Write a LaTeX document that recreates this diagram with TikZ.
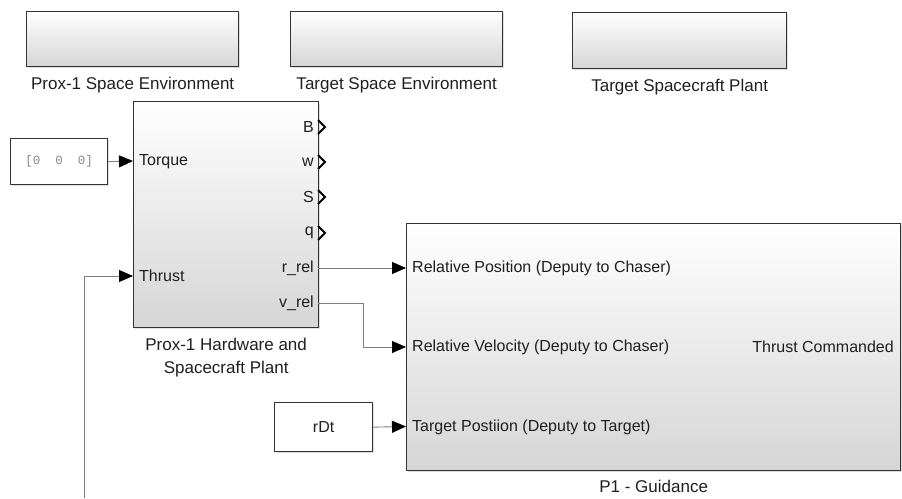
\documentclass[tikz,border=0pt]{standalone}
\usepackage{fontspec}
\setmainfont{Liberation Sans}
\newfontfamily\constfont{Liberation Mono}
\usetikzlibrary{arrows.meta,positioning,shadows,calc}
\definecolor{blkedge}{HTML}{333333}
\definecolor{wire}{HTML}{808080}
\definecolor{shadebot}{HTML}{D6D6D6}
\definecolor{constgray}{HTML}{8A8A8A}
\tikzset{
  blk/.style={draw=blkedge, line width=1.3pt, anchor=north west, inner sep=0pt,
    top color=white, middle color=white, bottom color=shadebot,
    drop shadow={shadow xshift=1.5pt, shadow yshift=-1.5pt, opacity=0.25}},
  srcbox/.style={draw=blkedge, line width=1.3pt, anchor=north west, inner sep=0pt, fill=white,
    drop shadow={shadow xshift=1.5pt, shadow yshift=-1.5pt, opacity=0.25}},
  blkname/.style={inner sep=0pt, align=center, font=\fontsize{17}{23}\selectfont, text=black!88},
  port/.style={inner sep=0pt, font=\fontsize{16}{18}\selectfont, text=black!88},
  sig/.style={draw=wire, line width=0.9pt, -{Triangle[length=14pt,width=12pt,color=black]}},
  chev/.style={line width=2pt, line join=miter},
}
\begin{document}
\begin{tikzpicture}[x=1pt,y=-1pt]
  \useasboundingbox (0,0) rectangle (902,498);
  % top row
  \node[blk, minimum width=212pt, minimum height=55pt] (envp) at (26,11) {};
  \node[blkname, below=10pt of envp] (envplbl) {Prox-1 Space Environment};
  \node[blk, minimum width=212pt, minimum height=55pt] (envt) at (290,11) {};
  \node[blkname, below=10pt of envt] (envtlbl) {Target Space Environment};
  \node[blk, minimum width=214pt, minimum height=56pt] (tplant) at (572,12) {};
  \node[blkname, below=10pt of tplant] (tplantlbl) {Target Spacecraft Plant};
  % prox-1 plant
  \node[blk, minimum width=185pt, minimum height=226pt] (plant) at (133,101) {};
  \node[blkname, below=10pt of plant] (plantlbl) {Prox-1 Hardware and\\Spacecraft Plant};
  \node[port, anchor=west] (inTq) at (139,162) {Torque};
  \node[port, anchor=west] (inTh) at (139,276) {Thrust};
  \foreach \y/\lab/\nm in {127/B/oB, 162/w/oW, 197/S/oS, 233/q/oQ, 268/r\_rel/oR, 303/v\_rel/oV} {
    \node[port, anchor=east] (\nm lbl) at (314,\y) {\lab};
    \coordinate (\nm) at (318,\y);
  }
  \foreach \nm in {oB, oW, oS, oQ}
    \draw[chev] ($(\nm)+(0,-7)$) -- ($(\nm)+(7,0)$) -- ($(\nm)+(0,7)$);
  \coordinate (pTq) at (133,161);
  \coordinate (pTh) at (133,276);
  % sources
  \node[srcbox, minimum width=97pt, minimum height=46pt] (zero) at (10,138) {};
  \node[inner sep=0pt, text=constgray, font=\constfont\fontsize{12.5}{14}\selectfont] (zerolbl) at (zero.center) {[0~~0~~0]};
  \node[srcbox, minimum width=98pt, minimum height=49pt] (rdt) at (274,402) {};
  \node[port] (rdtlbl) at (rdt.center) {rDt};
  % guidance
  \node[blk, minimum width=494pt, minimum height=247pt] (guid) at (406,223) {};
  \node[blkname, below=9pt of guid] (guidlbl) {P1 - Guidance};
  \coordinate (gPos) at (406,268);
  \coordinate (gVel) at (406,347);
  \coordinate (gTgt) at (406,426.5);
  \node[port, anchor=west] (gPoslbl) at (412,268) {Relative Position (Deputy to Chaser)};
  \node[port, anchor=west] (gVellbl) at (412,347) {Relative Velocity (Deputy to Chaser)};
  \node[port, anchor=west] (gTgtlbl) at (412,427) {Target Postiion (Deputy to Target)};
  \node[port, anchor=east] (gOutlbl) at (894,347) {Thrust Commanded};
  % wires
  \coordinate (thrEnd) at (84,498);
  \draw[sig] (zero.east) -- (pTq);
  \draw[sig] (thrEnd) |- (pTh);
  \draw[sig] (oR) -- (gPos);
  \draw[sig] (oV) -- ++(45,0) |- (gVel);
  \draw[sig] (rdt.east) -- (gTgt);
\end{tikzpicture}
\end{document}
